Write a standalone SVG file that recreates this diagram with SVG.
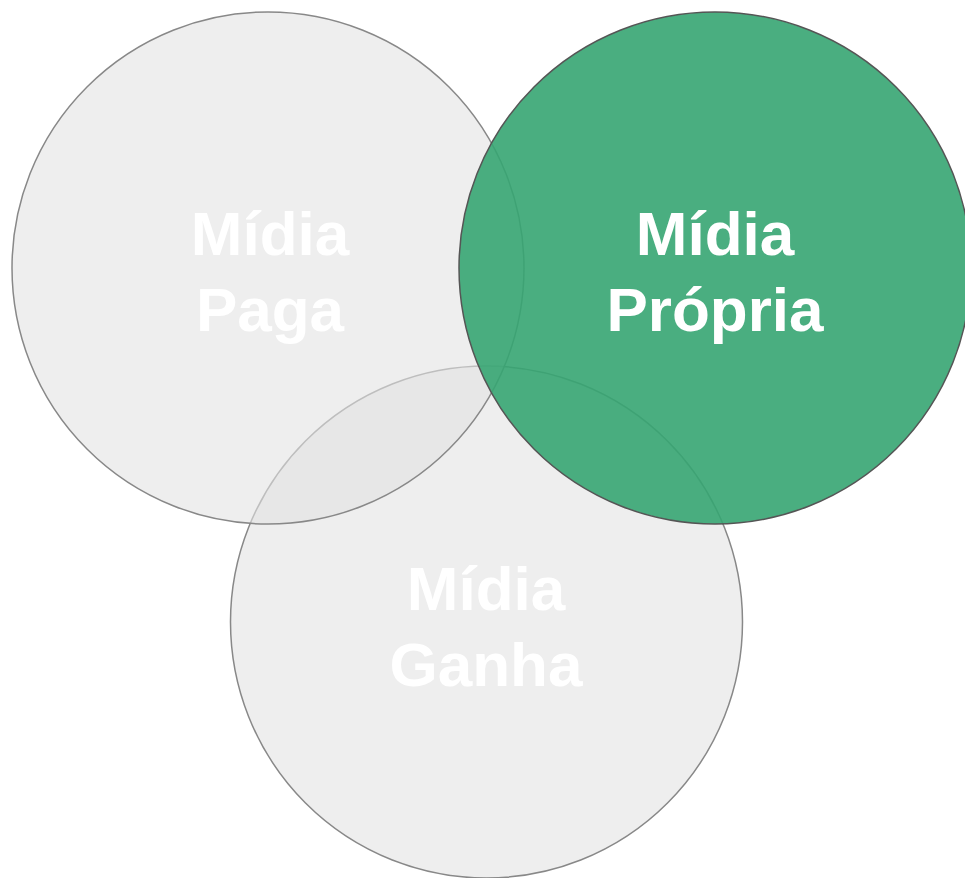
<svg xmlns="http://www.w3.org/2000/svg" width="965" height="878" viewBox="0 0 965 878">
<style>
.gray{fill:#e3e3e3;fill-opacity:0.6;stroke:#888888;stroke-width:1.5}
.green{fill:#36a572;fill-opacity:0.9;stroke:#555555;stroke-width:1.5}
.lbl{font-family:"Liberation Sans",Arial,sans-serif;font-weight:bold;font-size:62px;fill:#ffffff;text-anchor:middle}
</style>
<rect width="965" height="878" fill="#ffffff"/>
<g id="ganha">
<circle class="gray" cx="486.5" cy="622" r="256"/>
<text class="lbl" x="486" y="610">Mídia</text>
<text class="lbl" x="486" y="686">Ganha</text>
</g>
<g id="paga">
<circle class="gray" cx="268" cy="268" r="256"/>
<text class="lbl" x="270" y="255">Mídia</text>
<text class="lbl" x="270" y="331">Paga</text>
</g>
<g id="propria">
<circle class="green" cx="715" cy="268" r="256"/>
<text class="lbl" x="715" y="255">Mídia</text>
<text class="lbl" x="715" y="331">Própria</text>
</g>
<g id="connectors"></g>
</svg>
